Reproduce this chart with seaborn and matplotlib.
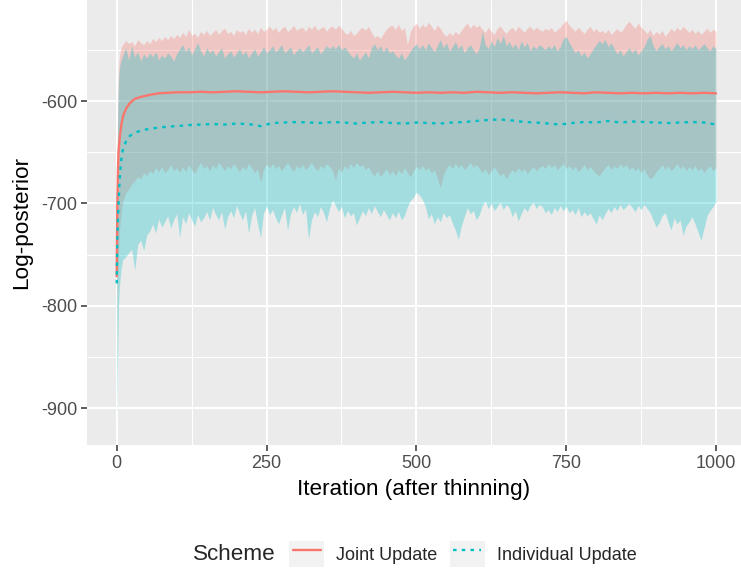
import matplotlib
matplotlib.use("Agg")
import matplotlib.pyplot as plt
import numpy as np
import pandas as pd
import seaborn as sns
from matplotlib.legend_handler import HandlerLine2D
from matplotlib.lines import Line2D
from matplotlib.patches import Rectangle
from matplotlib.ticker import MultipleLocator

# ---------------------------------------------------------------- data
schemes = ["Joint Update", "Individual Update"]
scheme_colors = ["#F8766D", "#00BFC4"]

# iterations at which the posterior band (min/max across chains) is stored
band_iter = [0, 1, 2, 3, 4, 6, 8] + list(range(10, 1001, 5))

joint_hi = [
    -690, -625, -592, -572, -560, -551, -547,
    -545, -541, -544, -542, -546, -540, -543, -545, -541, -544,
    -539, -542, -538, -541, -537, -540, -536, -539, -535, -538,
    -533, -537, -530, -536, -534, -538, -532, -535, -531, -536,
    -533, -530, -535, -531, -529, -534, -532, -536, -530, -533,
    -531, -535, -529, -533, -530, -534, -528, -532, -530, -527,
    -531, -528, -533, -529, -527, -532, -530, -526, -531, -529,
    -528, -532, -527, -530, -526, -531, -529, -527, -532, -528,
    -527, -530, -526, -529, -533, -535, -531, -536, -534, -530,
    -528, -531, -527, -533, -538, -536, -539, -534, -530, -527,
    -526, -530, -525, -531, -528, -545, -532, -527, -524, -529,
    -525, -528, -523, -527, -531, -526, -529, -534, -537, -533,
    -536, -532, -535, -531, -527, -524, -529, -525, -528, -526,
    -530, -533, -528, -532, -535, -529, -527, -531, -534, -530,
    -528, -532, -527, -530, -533, -529, -527, -531, -528, -530,
    -532, -529, -531, -528, -533, -530, -528, -524, -521, -526,
    -529, -532, -528, -531, -534, -530, -527, -532, -529, -533,
    -531, -534, -530, -535, -532, -529, -533, -530, -525, -522,
    -526, -529, -524, -528, -531, -534, -530, -536, -532, -535,
    -531, -537, -533, -529, -532, -528, -531, -527, -530, -533,
    -530, -534, -531, -535, -532, -529, -533, -530, -532,
]

joint_lo = [
    -860, -800, -772, -748, -732, -716, -706,
    -698, -690, -686, -681, -678, -674, -676, -670, -673, -668,
    -671, -665, -669, -664, -670, -667, -662, -668, -665, -670,
    -664, -669, -662, -667, -671, -665, -660, -666, -663, -668,
    -662, -666, -660, -664, -668, -663, -666, -661, -665, -669,
    -664, -667, -661, -665, -670, -666, -679, -667, -662, -665,
    -661, -666, -663, -668, -664, -660, -665, -669, -663, -666,
    -662, -667, -664, -660, -665, -668, -663, -666, -661, -664,
    -668, -677, -665, -670, -663, -667, -661, -665, -660, -664,
    -662, -667, -664, -670, -673, -668, -674, -670, -666, -672,
    -668, -673, -667, -671, -665, -670, -674, -668, -664, -667,
    -663, -668, -665, -670, -667, -675, -685, -672, -666, -662,
    -666, -661, -665, -662, -667, -664, -660, -665, -662, -666,
    -670, -666, -672, -668, -664, -669, -673, -670, -676, -671,
    -667, -670, -665, -669, -666, -671, -667, -664, -668, -665,
    -663, -666, -661, -665, -662, -667, -664, -661, -666, -663,
    -667, -664, -669, -666, -662, -667, -664, -668, -671, -673,
    -669, -665, -662, -667, -663, -666, -661, -665, -662, -667,
    -664, -668, -665, -670, -666, -672, -676, -674, -669, -666,
    -662, -667, -663, -668, -665, -661, -666, -663, -668, -664,
    -667, -663, -668, -665, -670, -666, -663, -668, -665,
]

indiv_hi = [
    -700, -640, -603, -582, -571, -563, -559,
    -556, -548, -560, -546, -557, -552, -561, -554, -558, -553,
    -557, -552, -560, -555, -558, -553, -556, -561, -554, -549,
    -545, -552, -547, -555, -549, -543, -551, -556, -548, -553,
    -550, -556, -552, -548, -558, -554, -551, -557, -553, -549,
    -555, -551, -558, -553, -549, -556, -552, -547, -553, -550,
    -546, -552, -549, -545, -553, -550, -547, -555, -551, -548,
    -552, -549, -545, -553, -550, -547, -554, -550, -546, -549,
    -546, -549, -545, -550, -547, -551, -555, -558, -553, -560,
    -556, -552, -558, -548, -544, -550, -546, -552, -547, -553,
    -551, -555, -558, -553, -560, -556, -551, -547, -544, -549,
    -545, -550, -543, -548, -552, -546, -540, -548, -543, -551,
    -547, -542, -549, -545, -553, -548, -545, -550, -554, -548,
    -532, -545, -549, -541, -547, -538, -544, -536, -546, -542,
    -548, -544, -550, -541, -547, -543, -551, -546, -549, -545,
    -547, -550, -546, -549, -545, -551, -547, -539, -537, -543,
    -548, -553, -550, -556, -552, -558, -554, -549, -545, -541,
    -544, -540, -547, -543, -549, -554, -550, -556, -552, -548,
    -553, -549, -555, -551, -547, -540, -536, -546, -551, -547,
    -544, -549, -546, -551, -547, -543, -548, -545, -550, -546,
    -549, -545, -550, -547, -544, -548, -551, -546, -549,
]

indiv_lo = [
    -915, -872, -832, -803, -786, -771, -761,
    -755, -752, -748, -745, -765, -740, -736, -746, -731, -727,
    -720, -729, -715, -723, -718, -712, -724, -716, -710, -733,
    -713, -720, -709, -716, -722, -711, -718, -714, -708, -716,
    -704, -711, -716, -708, -725, -713, -707, -714, -702, -710,
    -716, -707, -729, -712, -704, -720, -733, -709, -703, -711,
    -706, -714, -720, -711, -704, -726, -710, -703, -709, -700,
    -711, -705, -735, -716, -708, -713, -703, -709, -718, -705,
    -697, -702, -708, -703, -714, -707, -712, -709, -721, -714,
    -707, -712, -704, -710, -702, -708, -713, -706, -711, -716,
    -709, -714, -708, -716, -712, -703, -697, -694, -689, -692,
    -696, -703, -715, -710, -720, -713, -718, -709, -714, -711,
    -719, -726, -735, -722, -713, -704, -710, -707, -716, -711,
    -702, -698, -705, -700, -707, -703, -699, -706, -701, -704,
    -713, -707, -717, -710, -704, -708, -702, -699, -705, -701,
    -703, -709, -706, -711, -704, -708, -702, -707, -703, -709,
    -706, -711, -704, -713, -708, -712, -709, -715, -720, -711,
    -716, -710, -705, -709, -703, -707, -701, -706, -703, -700,
    -704, -708, -702, -706, -701, -705, -709, -716, -723, -719,
    -712, -709, -718, -726, -714, -720, -716, -731, -722, -718,
    -713, -720, -728, -736, -724, -712, -707, -703, -698,
]

# iterations at which the average log-posterior is stored
mean_iter = [0, 1, 2, 3, 5, 8, 11, 16, 22, 30, 40, 55, 70, 85, 100] + list(range(120, 1001, 20))

joint_mean = [
    -771, -700, -670, -650, -636, -622, -614, -607, -602, -598, -596, -594, -592.5, -592, -591.5,
    -591.5, -591, -591.5, -591, -590.5, -591, -591.5, -591, -590.5, -591,
    -591.5, -591, -590.5, -591, -591.5, -592, -591.5, -591, -591.5, -592,
    -591.5, -592, -591.5, -592, -591, -591.5, -592, -591.5, -592, -592.5,
    -592, -591.5, -592, -592.5, -591.5, -592, -592.5, -592, -592.5, -592,
    -592.5, -592, -592.5, -592, -592.5,
]

indiv_mean = [
    -778, -735, -715, -700, -675, -655, -645, -639, -634, -631, -629, -627, -626, -625, -624.5,
    -623.5, -623, -622.5, -623, -622, -622.5, -624.5, -621.5, -621, -620.5,
    -621, -621.5, -620.5, -621, -622, -621, -620.5, -621.5, -622, -621,
    -621.5, -622, -621, -620.5, -619.5, -618.5, -618, -619, -620.5, -621,
    -622, -623, -621.5, -620.5, -621, -619.5, -621, -620, -620.5, -621,
    -621.5, -621, -620.5, -621, -623,
]

x_ticks = [0, 250, 500, 750, 1000]
y_ticks = [-900, -800, -700, -600]

# ---------------------------------------------------------------- style
sns.set_theme(style="darkgrid", rc={
    "axes.facecolor": "#EBEBEB",
    "grid.color": "white",
    "axes.unicode_minus": False,
})
plt.rcParams["font.family"] = ["Liberation Sans", "DejaVu Sans"]
plt.rcParams["axes.unicode_minus"] = False

means = pd.DataFrame({
    "Iteration": mean_iter + mean_iter,
    "Log-posterior": joint_mean + indiv_mean,
    "Scheme": [schemes[0]] * len(mean_iter) + [schemes[1]] * len(mean_iter),
})

fig = plt.figure(figsize=(7.41, 5.71), dpi=100)
ax = fig.add_axes([87 / 741, 126 / 571, 654 / 741, 445 / 571])

# posterior bands, drawn under the average lines
ax.fill_between(band_iter, joint_lo, joint_hi, color=scheme_colors[0], alpha=0.3, lw=0)
ax.fill_between(band_iter, indiv_lo, indiv_hi, color=scheme_colors[1], alpha=0.3, lw=0)

dotted = (1.5, 2.2)
sns.lineplot(
    data=means, x="Iteration", y="Log-posterior",
    hue="Scheme", style="Scheme",
    hue_order=schemes, style_order=schemes,
    palette=scheme_colors,
    dashes={schemes[0]: "", schemes[1]: dotted},
    linewidth=1.7, estimator=None, sort=False, legend=False, ax=ax,
)

ax.set_xlim(-49.6, 1041.7)
ax.set_ylim(-935.8, -501.4)
ax.set_xticks(x_ticks)
ax.set_yticks(y_ticks)
ax.xaxis.set_minor_locator(MultipleLocator(125))
ax.yaxis.set_minor_locator(MultipleLocator(50))
ax.set_axisbelow(True)
ax.grid(which="major", color="white", linewidth=1.45)
ax.grid(which="minor", color="white", linewidth=0.72)
for s in ax.spines.values():
    s.set_visible(False)

ax.tick_params(which="major", length=4.5, width=1.1, color="#333333",
               labelcolor="#4D4D4D", labelsize=13, pad=2.5,
               bottom=True, left=True)
ax.tick_params(which="minor", length=0)

ax.set_xlabel("Iteration (after thinning)", fontsize=16.2, color="black")
ax.set_ylabel("Log-posterior", fontsize=16.2, color="black")
ax.yaxis.set_label_coords(-0.0846, 0.5)
ax.xaxis.set_label_coords(0.5, -0.0764)


class BoxedLineHandler(HandlerLine2D):
    """Legend key with a light grey square behind the line sample."""

    def create_artists(self, legend, orig_handle, xdescent, ydescent,
                       width, height, fontsize, trans):
        box = Rectangle((-xdescent, -ydescent), width, height,
                        facecolor="#F2F2F2", edgecolor="none", transform=trans)
        arts = super().create_artists(legend, orig_handle, xdescent, ydescent,
                                      width, height, fontsize, trans)
        return [box] + list(arts)


handles = [
    Line2D([], [], color=scheme_colors[0], lw=1.7),
    Line2D([], [], color=scheme_colors[1], lw=1.7, dashes=dotted),
]
fig.text(193 / 741, 1 - 554 / 571, "Scheme", fontsize=16.2, va="center", ha="left")
fig.legend(
    handles, schemes, loc="center left",
    bbox_to_anchor=(289 / 741, 1 - 554 / 571), ncol=2, frameon=False,
    fontsize=13, handlelength=1.95, handleheight=1.9,
    handletextpad=0.67, columnspacing=0.67, borderpad=0, borderaxespad=0,
    handler_map={Line2D: BoxedLineHandler(numpoints=2, marker_pad=0.2)},
)

fig.savefig("out.png", dpi=100)
